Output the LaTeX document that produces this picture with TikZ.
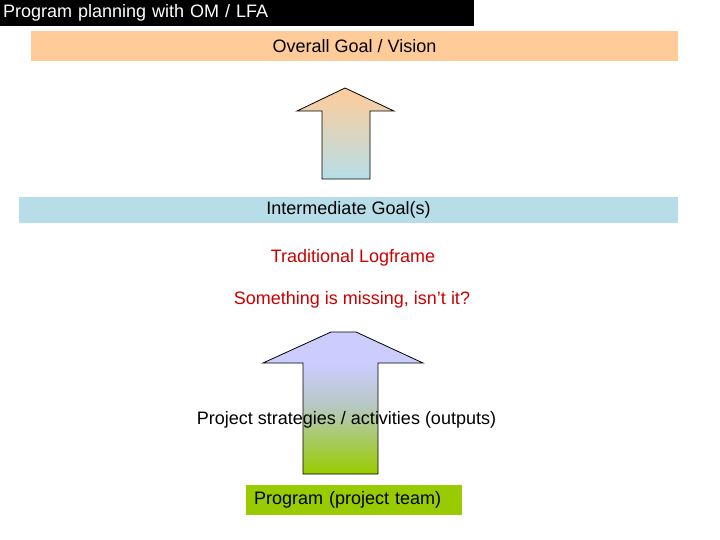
\documentclass[tikz,border=0pt]{standalone}
\usepackage{fontspec}
\setmainfont{Liberation Sans}
\usepackage{tikz}
\usetikzlibrary{positioning}
\definecolor{peach}{RGB}{255,204,153}
\definecolor{paleblue}{RGB}{183,222,232}
\definecolor{lavender}{RGB}{204,204,255}
\definecolor{greyblue}{RGB}{184,200,200}
\definecolor{leafgreen}{RGB}{153,204,0}
\definecolor{alertred}{RGB}{204,0,0}
\pgfdeclareverticalshading{lowarrow}{100bp}{color(0bp)=(leafgreen); color(25bp)=(leafgreen);
  color(50bp)=(greyblue); color(64bp)=(lavender); color(100bp)=(lavender)}

\begin{document}
\begin{tikzpicture}[
    x=1pt, y=-1pt,
    every node/.style={font=\fontsize{18}{21}\selectfont},
    bar/.style={rectangle, inner sep=0pt, align=center},
    note/.style={text=alertred, inner sep=1pt},
    uparrow/.style={draw=black, line width=0.8pt, line join=miter},
]
\useasboundingbox (0,0) rectangle (720,540);

% header
\node[bar, fill=black, text=white, minimum width=474pt, minimum height=26pt,
      text width=468pt, align=left] (title) at (237,13) {Program planning with OM / LFA};

% goal levels
\node[bar, fill=peach, minimum width=647pt, minimum height=30pt] (goal) at (354.5,46) {Overall Goal / Vision};
\node[bar, fill=paleblue, minimum width=659pt, minimum height=26pt] (inter) at (348.5,210) {Intermediate Goal(s)};

% upper arrow
\shade[uparrow, top color=peach, bottom color=paleblue]
  (345,88) -- (394,111) -- (370,111) -- (370,179) -- (322,179) -- (322,111) -- (297,111) -- cycle;

\node[note] (logframe) at (353,258) {Traditional Logframe};
\node[note] (missing) at (352,300) {Something is missing, isn’t it?};

% lower arrow
\shade[uparrow, shading=lowarrow]
  (331,332) -- (356,332) -- (423,363) -- (378,363) -- (378,474) -- (303,474) -- (303,363) -- (263,363) -- cycle;
\node[inner sep=1pt] (outputs) at (346.5,420) {Project strategies / activities (outputs)};

% program
\node[bar, fill=leafgreen, minimum width=216pt, minimum height=30pt,
      text width=200pt, align=left] (program) at (354,500) {Program (project team)};

\end{tikzpicture}
\end{document}
